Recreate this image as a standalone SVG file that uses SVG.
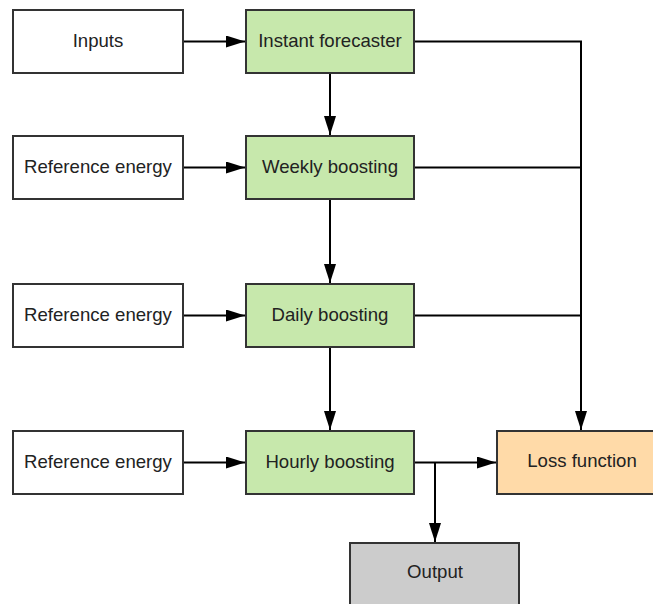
<svg xmlns="http://www.w3.org/2000/svg" width="653" height="604" viewBox="0 0 653 604">
<style>
.box{stroke:#333;stroke-width:2}
.w{fill:#fff}
.g{fill:#c7e8ac}
.o{fill:#ffdaa8}
.gr{fill:#cccccc}
text{font-family:"Liberation Sans",Arial,sans-serif;font-size:18.6px;fill:#222;text-anchor:middle}
.c{fill:none;stroke:#000;stroke-width:2}
</style>
<defs>
<marker id="ah" markerUnits="userSpaceOnUse" markerWidth="20" markerHeight="12" refX="19" refY="6" orient="auto">
<path d="M0,0 L19,6 L0,12 z" fill="#000"/>
</marker>
</defs>
<rect width="653" height="604" fill="#fff"/>
<g id="connectors">
<path class="c" d="M183,41.5 H245" marker-end="url(#ah)"/>
<path class="c" d="M183,167.5 H245" marker-end="url(#ah)"/>
<path class="c" d="M183,315.5 H245" marker-end="url(#ah)"/>
<path class="c" d="M183,462.5 H245" marker-end="url(#ah)"/>
<path class="c" d="M330,73 V135" marker-end="url(#ah)"/>
<path class="c" d="M330,199 V283" marker-end="url(#ah)"/>
<path class="c" d="M330,347 V430" marker-end="url(#ah)"/>
<path class="c" d="M414,41.5 H581 V430" marker-end="url(#ah)"/>
<path class="c" d="M414,167.5 H581"/>
<path class="c" d="M414,315.5 H581"/>
<path class="c" d="M414,462.5 H496" marker-end="url(#ah)"/>
<path class="c" d="M435,462.5 V542" marker-end="url(#ah)"/>
</g>
<g id="inputs"><rect class="box w" x="13" y="10" width="170" height="63"/><text x="98" y="47">Inputs</text></g>
<g id="instant"><rect class="box g" x="246" y="10" width="168" height="63"/><text x="330" y="47">Instant forecaster</text></g>
<g id="ref1"><rect class="box w" x="13" y="136" width="170" height="63"/><text x="98" y="172.5">Reference energy</text></g>
<g id="weekly"><rect class="box g" x="246" y="136" width="168" height="63"/><text x="330" y="172.5">Weekly boosting</text></g>
<g id="ref2"><rect class="box w" x="13" y="284" width="170" height="63"/><text x="98" y="320.5">Reference energy</text></g>
<g id="daily"><rect class="box g" x="246" y="284" width="168" height="63"/><text x="330" y="320.5">Daily boosting</text></g>
<g id="ref3"><rect class="box w" x="13" y="431" width="170" height="63"/><text x="98" y="467.5">Reference energy</text></g>
<g id="hourly"><rect class="box g" x="246" y="431" width="168" height="63"/><text x="330" y="467.5">Hourly boosting</text></g>
<g id="loss"><rect class="box o" x="497" y="431" width="170" height="63"/><text x="582" y="467">Loss function</text></g>
<g id="output"><rect class="box gr" x="350" y="543" width="169" height="63"/><text x="435" y="577.5">Output</text></g>
</svg>
